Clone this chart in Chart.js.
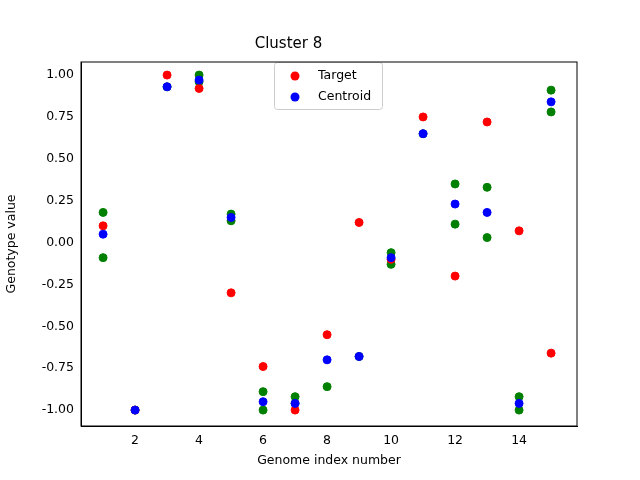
<!DOCTYPE html>
<html><head><script src="https://cdn.jsdelivr.net/npm/chart.js@4"></script>
<style>body{margin:0}#w{width:640px;height:480px}</style></head>
<body><div id="w"><canvas id="c"></canvas></div>
<script>
const indices=[1,2,3,4,5,6,7,8,9,10,11,12,13,14,15];
const target=[0.10,-1.0,1.0,0.92,-0.30,-0.74,-1.0,-0.55,0.12,-0.10,0.75,-0.20,0.72,0.07,-0.66];
const centroid=[0.05,-1.0,0.93,0.97,0.15,-0.95,-0.96,-0.70,-0.68,-0.09,0.65,0.23,0.18,-0.96,0.84];
const membersA=[0.18,-1.0,0.93,1.00,0.17,-0.89,-0.92,-0.86,-0.68,-0.06,0.65,0.35,0.33,-0.92,0.91];
const membersB=[-0.09,null,null,0.96,0.13,-1.00,-0.96,null,null,-0.13,null,0.11,0.03,-1.00,0.78];
const xTicks=[2,4,6,8,10,12,14];
const yTicks=[-1.0,-0.75,-0.5,-0.25,0,0.25,0.5,0.75,1.0];
const pts=a=>a.map((v,i)=>({x:indices[i],y:v})).filter(p=>p.y!==null);
const ds=(l,d,c,o)=>({label:l,data:pts(d),order:o,backgroundColor:c,borderColor:c,pointRadius:4,pointHoverRadius:4,borderWidth:1,showLine:false});
const font={family:'DejaVu Sans',size:12.5};
const legendPlugin={id:'lg',afterDraw(ch){const g=ch.ctx;g.save();
g.fillStyle='rgba(255,255,255,0.8)';g.strokeStyle='#ccc';g.lineWidth=1;
g.beginPath();g.roundRect(274.5,62.5,108,47,3);g.fill();g.stroke();
g.font='12.5px DejaVu Sans';g.textBaseline='middle';
[['Target','red',76],['Centroid','blue',97]].forEach(([t,c,y])=>{g.fillStyle=c;g.beginPath();g.arc(295,y,4.5,0,2*Math.PI);g.fill();g.fillStyle='#000';g.fillText(t,318,y);});
g.restore();}};
new Chart(document.getElementById('c'),{type:'scatter',
data:{datasets:[ds('Centroid',centroid,'blue',0),ds('Target',target,'red',1),ds('m1',membersA,'green',2),ds('m2',membersB,'green',3)]},
options:{animation:false,responsive:true,maintainAspectRatio:false,
layout:{padding:{top:0,right:63,bottom:0,left:0}},
plugins:{legend:{display:false},tooltip:{enabled:false},
title:{display:true,text:'Cluster 8',color:'#000',font:{family:'DejaVu Sans',size:15,weight:'normal'},padding:{top:35,bottom:9}}},
scales:{
x:{min:0.31,max:15.81,afterBuildTicks:a=>{a.ticks=xTicks.map(v=>({value:v}))},
grid:{display:false,drawTicks:true,tickLength:4,tickColor:'#000'},border:{color:'#000'},
ticks:{color:'#000',font,padding:3},title:{display:true,text:'Genome index number',color:'#000',font,padding:{top:2,bottom:12}}},
y:{min:-1.095,max:1.078,afterBuildTicks:a=>{a.ticks=yTicks.map(v=>({value:v}))},afterFit:a=>{a.width=81},
grid:{display:false,tickLength:4,tickColor:'#000'},border:{color:'#000'},
ticks:{color:'#000',font,padding:3,callback:v=>v.toFixed(2)},title:{display:true,text:'Genotype value',color:'#000',font,padding:{bottom:4}}}
}},plugins:[legendPlugin,{id:'frame',afterDraw(ch){const a=ch.chartArea,g=ch.ctx;g.save();g.strokeStyle='#000';g.lineWidth=1;g.strokeRect(a.left,a.top,a.right-a.left,a.bottom-a.top);g.restore();}}]});
</script></body></html>
